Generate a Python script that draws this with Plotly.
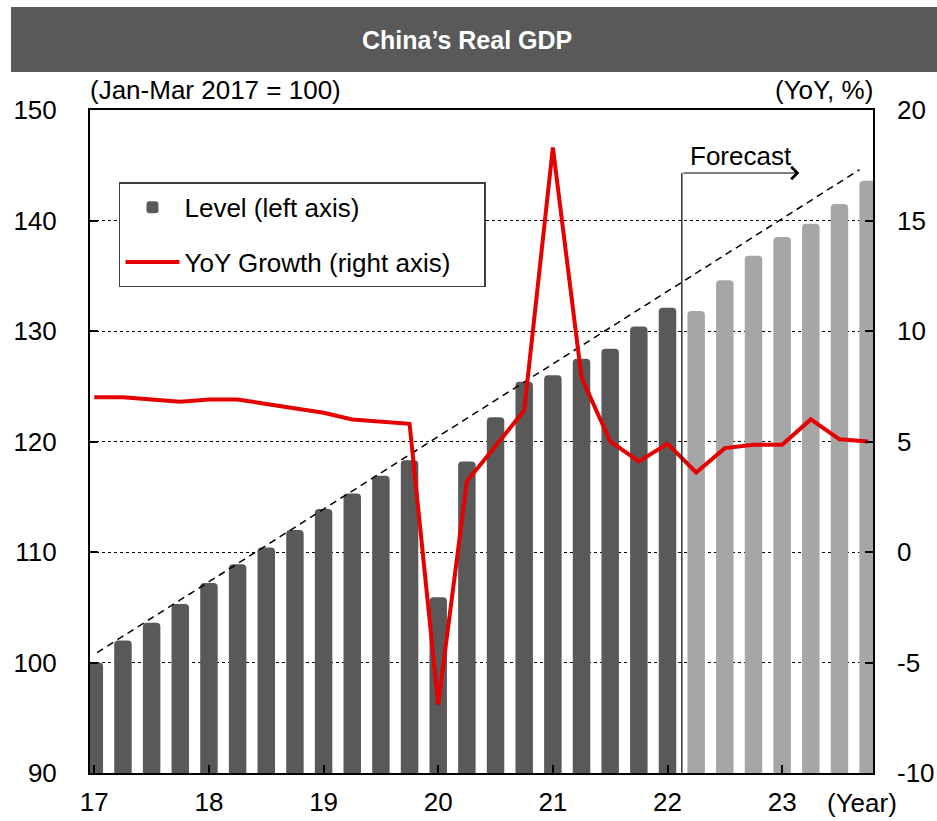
import plotly.graph_objects as go

# ---------------- data ----------------
quarter_idx = list(range(28))  # 2017Q1 .. 2023Q4
level_actual = [100.0, 102.0, 103.6, 105.3, 107.2, 108.9, 110.4, 112.0,
                113.9, 115.3, 116.9, 118.3, 105.9, 118.2, 122.2, 125.4,
                126.0, 127.5, 128.4, 130.4, 132.1]
level_forecast = [131.8, 134.6, 136.8, 138.5, 139.7, 141.5, 143.6]
yoy_growth = [7.0, 7.0, 6.9, 6.8, 6.9, 6.9, 6.7, 6.5,
              6.3, 6.0, 5.9, 5.8, -6.9, 3.2, 4.8, 6.4,
              18.3, 7.9, 5.0, 4.1, 4.9, 3.6, 4.7, 4.85,
              4.85, 6.0, 5.1, 5.0]
trend_x = [0.1, 26.7]
trend_y = [100.9, 144.6]
year_tick_idx = [0, 4, 8, 12, 16, 20, 24]
year_tick_labels = ["17", "18", "19", "20", "21", "22", "23"]
right_tick_vals = [-10, -5, 0, 5, 10, 15, 20]
right_tick_labels = ["-10", "-5", "0", "5", "10", "15", "20"]
forecast_start = 20.5
forecast_arrow_end = 24.6
forecast_level = 144.3

n_actual = len(level_actual)
x_actual = quarter_idx[:n_actual]
x_forecast = quarter_idx[n_actual:]

FONT = "Arial, 'Liberation Sans', sans-serif"
DARK = "#595959"
LIGHT = "#A6A6A6"
RED = "#E60000"
NBSP = "\u00a0"

fig = go.Figure()
fig.add_trace(go.Bar(x=x_actual, y=level_actual, name="Level (left axis)",
                     marker=dict(color=DARK, cornerradius=4, line=dict(width=0)),
                     width=0.61, legendgroup="a"))
fig.add_trace(go.Bar(x=x_forecast, y=level_forecast, name="Level forecast",
                     marker=dict(color=LIGHT, cornerradius=4, line=dict(width=0)),
                     width=0.61, showlegend=False))
fig.add_trace(go.Scatter(x=trend_x, y=trend_y, mode="lines", showlegend=False,
                         line=dict(color="black", width=1.5, dash="7px,5px")))
fig.add_trace(go.Scatter(x=quarter_idx, y=yoy_growth, mode="lines", yaxis="y2",
                         name="YoY Growth (right axis)" + NBSP * 4, legendgroup="b",
                         line=dict(color=RED, width=4)))

# forecast marker
fig.add_shape(type="line", xref="x", yref="y", x0=forecast_start, x1=forecast_start,
              y0=90, y1=forecast_level, line=dict(color="black", width=1.2))
fig.add_annotation(x=forecast_arrow_end, y=forecast_level, ax=forecast_start, ay=forecast_level,
                   xref="x", yref="y", axref="x", ayref="y", text="", showarrow=True,
                   arrowhead=4, arrowsize=2, arrowwidth=1.2, arrowcolor="black")
fig.add_annotation(x=(forecast_start + forecast_arrow_end) / 2, y=forecast_level,
                   xref="x", yref="y", text="Forecast", showarrow=False,
                   yanchor="bottom", yshift=0, font=dict(size=26, color="black", family=FONT))

# title bar
fig.add_shape(type="rect", xref="paper", yref="paper", x0=-0.1009, x1=1.082,
              y0=1.0573, y1=1.1554, fillcolor="#595959", line=dict(width=0), layer="above")
fig.add_annotation(xref="paper", yref="paper", x=0.481, y=1.1056, text="<b>China’s Real GDP</b>",
                   showarrow=False, xanchor="center", yanchor="middle",
                   font=dict(size=25, color="white", family=FONT))

# axis unit labels
fig.add_annotation(xref="paper", yref="paper", x=-0.0026, y=1.030, text="(Jan-Mar 2017 = 100)",
                   showarrow=False, xanchor="left", yanchor="middle",
                   font=dict(size=26, color="black", family=FONT))
fig.add_annotation(xref="paper", yref="paper", x=1.0026, y=1.030, text="(YoY, %)",
                   showarrow=False, xanchor="right", yanchor="middle",
                   font=dict(size=26, color="black", family=FONT))
fig.add_annotation(xref="paper", yref="paper", x=0.9387, y=-0.0452, text="(Year)",
                   showarrow=False, xanchor="left", yanchor="middle",
                   font=dict(size=26, color="black", family=FONT))

fig.update_layout(
    width=937, height=821,
    margin=dict(l=90, r=64, t=110, b=48, autoexpand=False),
    paper_bgcolor="white", plot_bgcolor="white",
    barmode="overlay",
    font=dict(family=FONT, size=26, color="black"),
    xaxis=dict(range=[-0.15, 27.17], tickmode="array", tickvals=year_tick_idx,
               ticktext=year_tick_labels, ticks="inside", ticklen=8, tickwidth=1.5,
               tickcolor="black", showline=True, linecolor="black", linewidth=2,
               mirror=True, showgrid=False, zeroline=False, ticklabelstandoff=5,
               automargin=False, tickfont=dict(size=26, family=FONT)),
    yaxis=dict(range=[90, 150], dtick=10, tick0=90, ticks="inside", ticklen=8, tickwidth=2,
               tickcolor="black", showline=True, linecolor="black", linewidth=2,
               mirror=True, showgrid=True, gridcolor="black", gridwidth=1, griddash="dot",
               zeroline=False, ticklabelstandoff=26, automargin=False,
               tickfont=dict(size=26, family=FONT)),
    yaxis2=dict(range=[-10, 20], tickmode="array", tickvals=right_tick_vals,
                ticktext=right_tick_labels, overlaying="y", side="right",
                ticks="inside", ticklen=8, tickwidth=2, tickcolor="black",
                showline=False, showgrid=False, zeroline=False, ticklabelstandoff=23,
                automargin=False, tickfont=dict(size=26, family=FONT)),
    legend=dict(x=0.037, y=0.891, xanchor="left", yanchor="top",
                bgcolor="white", bordercolor="#404040", borderwidth=1.5,
                font=dict(size=26, family=FONT), itemwidth=54,
                traceorder="grouped", tracegroupgap=18),
    showlegend=True,
)

fig.write_html("out.html")
